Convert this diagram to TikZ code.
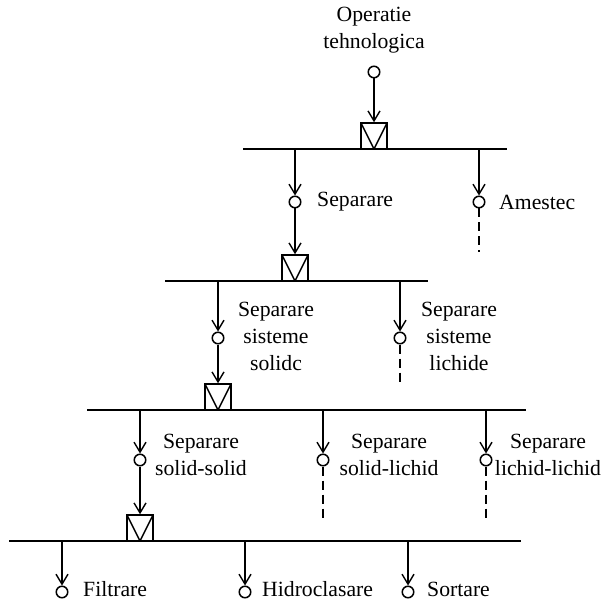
\documentclass[tikz,border=0pt]{standalone}
\usepackage{fontspec}
\setmainfont{Liberation Serif}
\usetikzlibrary{arrows.meta}
\begin{document}
\begin{tikzpicture}[x=1pt,y=-1pt,
  every node/.style={inner sep=0pt},
  lbl/.style={font=\fontsize{21.7}{27}\selectfont, align=center},
  pt/.style={circle, draw, line width=1.5pt, minimum size=11.5pt},
  gate/.style={draw, line width=1.5pt, minimum width=26pt, minimum height=26pt,
    path picture={\draw[line width=1.5pt] (path picture bounding box.north west)
      -- (path picture bounding box.south) -- (path picture bounding box.north east);}},
  bus/.style={line width=1.7pt},
  flow/.style={line width=1.4pt, -{Straight Barb[length=10pt,width=12pt]}},
  cont/.style={line width=1.4pt, dash pattern=on 9pt off 5pt}
]
\useasboundingbox (0,0) rectangle (607,601);

% ---- level 0 ----
\node[lbl] (t0) at (374,30) {Operatie\\tehnologica};
\node[pt] (c0) at (374,72) {};
\node[gate] (g0) at (374,136) {};
\coordinate (L1w) at (243,149);
\coordinate (L1e) at (507,149);
\draw[bus] (L1w) -- (L1e);
\draw[flow] (c0) -- (g0);

% ---- level 1 ----
\coordinate (b1a) at (295,149);
\coordinate (b1b) at (479,149);
\node[pt] (c1a) at (295,202) {};
\node[pt] (c1b) at (479,202) {};
\coordinate (e1b) at (479,252);
\node[lbl, anchor=west] (t1a) at (317,202) {Separare};
\node[lbl, anchor=west] (t1b) at (499,202) {Amestec};
\draw[flow] (b1a) -- (c1a);
\draw[flow] (b1b) -- (c1b);
\draw[cont] (c1b) -- (e1b);
\node[gate] (g1) at (295,268) {};
\draw[flow] (c1a) -- (g1);
\coordinate (L2w) at (165,281);
\coordinate (L2e) at (428,281);
\draw[bus] (L2w) -- (L2e);

% ---- level 2 ----
\coordinate (b2a) at (218,281);
\coordinate (b2b) at (400,281);
\node[pt] (c2a) at (218,338) {};
\node[pt] (c2b) at (400,338) {};
\coordinate (e2b) at (400,386);
\node[lbl] (t2a) at (276,336) {Separare\\sisteme\\solidc};
\node[lbl] (t2b) at (459,336) {Separare\\sisteme\\lichide};
\draw[flow] (b2a) -- (c2a);
\draw[flow] (b2b) -- (c2b);
\draw[cont] (c2b) -- (e2b);
\node[gate] (g2) at (218,397) {};
\draw[flow] (c2a) -- (g2);
\coordinate (L3w) at (87,410);
\coordinate (L3e) at (526,410);
\draw[bus] (L3w) -- (L3e);

% ---- level 3 ----
\coordinate (b3a) at (140,410);
\coordinate (b3b) at (323,410);
\coordinate (b3c) at (486,410);
\node[pt] (c3a) at (140,460) {};
\node[pt] (c3b) at (323,460) {};
\node[pt] (c3c) at (486,460) {};
\coordinate (e3b) at (323,518);
\coordinate (e3c) at (486,518);
\node[lbl] (t3a) at (201,455) {Separare\\solid-solid};
\node[lbl] (t3b) at (389,455) {Separare\\solid-lichid};
\node[lbl] (t3c) at (548,455) {Separare\\lichid-lichid};
\draw[flow] (b3a) -- (c3a);
\draw[flow] (b3b) -- (c3b);
\draw[flow] (b3c) -- (c3c);
\draw[cont] (c3b) -- (e3b);
\draw[cont] (c3c) -- (e3c);
\node[gate] (g3) at (140,528) {};
\draw[flow] (c3a) -- (g3);
\coordinate (L4w) at (9,541);
\coordinate (L4e) at (521,541);
\draw[bus] (L4w) -- (L4e);

% ---- level 4 ----
\coordinate (b4a) at (62,541);
\coordinate (b4b) at (245,541);
\coordinate (b4c) at (408,541);
\node[pt] (c4a) at (62,592) {};
\node[pt] (c4b) at (245,592) {};
\node[pt] (c4c) at (408,592) {};
\node[lbl, anchor=west] (t4a) at (83,589) {Filtrare};
\node[lbl, anchor=west] (t4b) at (262,589) {Hidroclasare};
\node[lbl, anchor=west] (t4c) at (427,589) {Sortare};
\draw[flow] (b4a) -- (c4a);
\draw[flow] (b4b) -- (c4b);
\draw[flow] (b4c) -- (c4c);
\end{tikzpicture}
\end{document}
